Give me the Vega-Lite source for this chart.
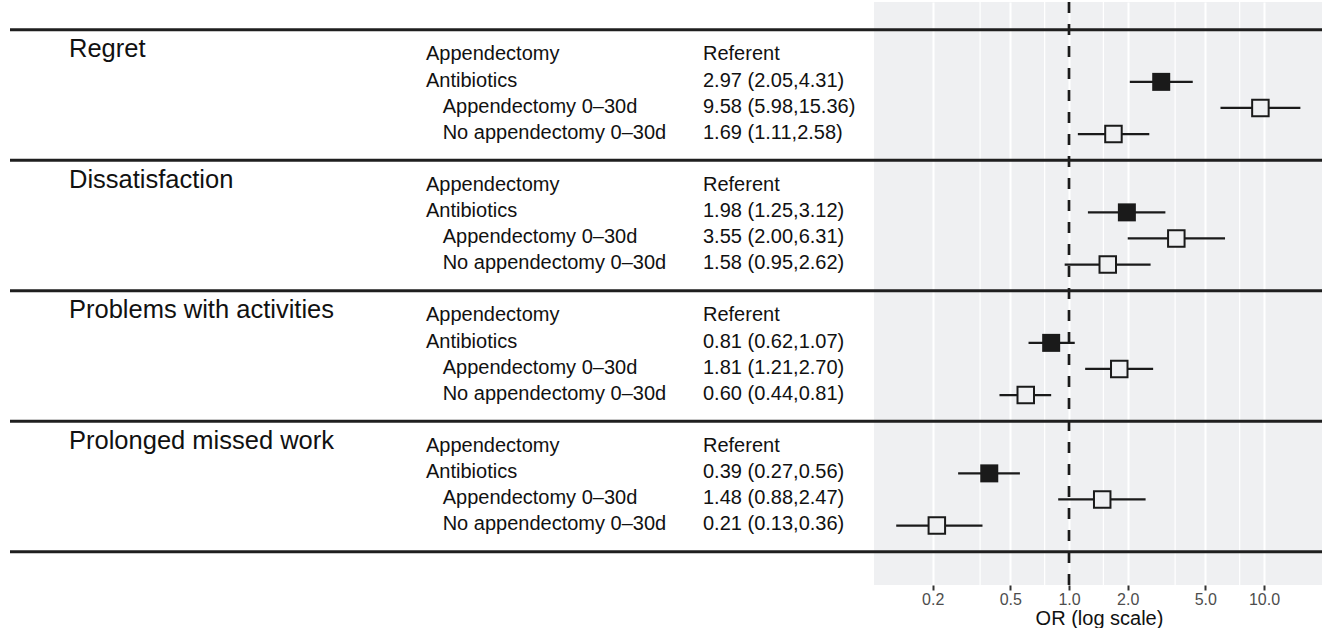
{
  "$schema": "https://vega.github.io/schema/vega-lite/v6.json",
  "padding": {"left": 8, "top": 0, "right": 0, "bottom": 0},
  "spacing": 0,
  "bounds": "flush",
  "config": {
    "font": "Liberation Sans",
    "view": {"stroke": null},
    "text": {"color": "#111111"}
  },
  "datasets": {
    "rows": [
      {"outcome": "Regret", "group": "Appendectomy", "est": "Referent", "row": 1},
      {"outcome": "Regret", "group": "Antibiotics", "est": "2.97 (2.05,4.31)", "or": 2.97, "lo": 2.05, "hi": 4.31, "kind": "filled", "row": 2},
      {"outcome": "Regret", "group": "\u200b\u00a0\u00a0\u00a0Appendectomy 0–30d", "est": "9.58 (5.98,15.36)", "or": 9.58, "lo": 5.98, "hi": 15.36, "kind": "open", "row": 3},
      {"outcome": "Regret", "group": "\u200b\u00a0\u00a0\u00a0No appendectomy 0–30d", "est": "1.69 (1.11,2.58)", "or": 1.69, "lo": 1.11, "hi": 2.58, "kind": "open", "row": 4},
      {"outcome": "Dissatisfaction", "group": "Appendectomy", "est": "Referent", "row": 6},
      {"outcome": "Dissatisfaction", "group": "Antibiotics", "est": "1.98 (1.25,3.12)", "or": 1.98, "lo": 1.25, "hi": 3.12, "kind": "filled", "row": 7},
      {"outcome": "Dissatisfaction", "group": "\u200b\u00a0\u00a0\u00a0Appendectomy 0–30d", "est": "3.55 (2.00,6.31)", "or": 3.55, "lo": 2.0, "hi": 6.31, "kind": "open", "row": 8},
      {"outcome": "Dissatisfaction", "group": "\u200b\u00a0\u00a0\u00a0No appendectomy 0–30d", "est": "1.58 (0.95,2.62)", "or": 1.58, "lo": 0.95, "hi": 2.62, "kind": "open", "row": 9},
      {"outcome": "Problems with activities", "group": "Appendectomy", "est": "Referent", "row": 11},
      {"outcome": "Problems with activities", "group": "Antibiotics", "est": "0.81 (0.62,1.07)", "or": 0.81, "lo": 0.62, "hi": 1.07, "kind": "filled", "row": 12},
      {"outcome": "Problems with activities", "group": "\u200b\u00a0\u00a0\u00a0Appendectomy 0–30d", "est": "1.81 (1.21,2.70)", "or": 1.81, "lo": 1.21, "hi": 2.7, "kind": "open", "row": 13},
      {"outcome": "Problems with activities", "group": "\u200b\u00a0\u00a0\u00a0No appendectomy 0–30d", "est": "0.60 (0.44,0.81)", "or": 0.6, "lo": 0.44, "hi": 0.81, "kind": "open", "row": 14},
      {"outcome": "Prolonged missed work", "group": "Appendectomy", "est": "Referent", "row": 16},
      {"outcome": "Prolonged missed work", "group": "Antibiotics", "est": "0.39 (0.27,0.56)", "or": 0.39, "lo": 0.27, "hi": 0.56, "kind": "filled", "row": 17},
      {"outcome": "Prolonged missed work", "group": "\u200b\u00a0\u00a0\u00a0Appendectomy 0–30d", "est": "1.48 (0.88,2.47)", "or": 1.48, "lo": 0.88, "hi": 2.47, "kind": "open", "row": 18},
      {"outcome": "Prolonged missed work", "group": "\u200b\u00a0\u00a0\u00a0No appendectomy 0–30d", "est": "0.21 (0.13,0.36)", "or": 0.21, "lo": 0.13, "hi": 0.36, "kind": "open", "row": 19}
    ],
    "seps": [{"row": 0}, {"row": 5}, {"row": 10}, {"row": 15}, {"row": 20}],
    "minor": [{"v": 0.35}, {"v": 0.75}, {"v": 1.5}, {"v": 3.5}, {"v": 7.5}],
    "ref": [{"v": 1}]
  },
  "hconcat": [
    {
      "width": 59, "height": 583,
      "data": {"name": "seps"},
      "mark": {"type": "rule", "strokeWidth": 3, "color": "#1f1f1f"},
      "encoding": {
        "y": {"field": "row", "type": "quantitative", "scale": {"domain": [-1.06, 21.277], "reverse": true, "nice": false, "zero": false}, "axis": null}
      }
    },
    {
      "width": 357, "height": 583,
      "layer": [
        {
          "data": {"name": "seps"},
          "mark": {"type": "rule", "strokeWidth": 3, "color": "#1f1f1f"},
          "encoding": {
            "y": {"field": "row", "type": "quantitative", "scale": {"domain": [-1.06, 21.277], "reverse": true, "nice": false, "zero": false}, "axis": null}
          }
        },
        {
          "data": {"name": "rows"},
          "transform": [{"filter": "datum.group === 'Appendectomy'"}],
          "mark": {"type": "text", "align": "left", "baseline": "middle", "fontSize": 25.5, "dy": -6.5},
          "encoding": {
            "x": {"datum": 0, "type": "quantitative", "scale": {"domain": [0, 1]}, "axis": null},
            "y": {"field": "row", "type": "quantitative"},
            "text": {"field": "outcome"}
          }
        }
      ]
    },
    {
      "width": 277, "height": 583,
      "layer": [
        {
          "data": {"name": "seps"},
          "mark": {"type": "rule", "strokeWidth": 3, "color": "#1f1f1f"},
          "encoding": {
            "y": {"field": "row", "type": "quantitative", "scale": {"domain": [-1.06, 21.277], "reverse": true, "nice": false, "zero": false}, "axis": null}
          }
        },
        {
          "data": {"name": "rows"},
          "mark": {"type": "text", "align": "left", "baseline": "middle", "fontSize": 20, "dy": -1.3},
          "encoding": {
            "x": {"datum": 0, "type": "quantitative", "scale": {"domain": [0, 1]}, "axis": null},
            "y": {"field": "row", "type": "quantitative"},
            "text": {"field": "group"}
          }
        }
      ]
    },
    {
      "width": 171, "height": 583,
      "layer": [
        {
          "data": {"name": "seps"},
          "mark": {"type": "rule", "strokeWidth": 3, "color": "#1f1f1f"},
          "encoding": {
            "y": {"field": "row", "type": "quantitative", "scale": {"domain": [-1.06, 21.277], "reverse": true, "nice": false, "zero": false}, "axis": null}
          }
        },
        {
          "data": {"name": "rows"},
          "mark": {"type": "text", "align": "left", "baseline": "middle", "fontSize": 20, "dy": -1.3},
          "encoding": {
            "x": {"datum": 0, "type": "quantitative", "scale": {"domain": [0, 1]}, "axis": null},
            "y": {"field": "row", "type": "quantitative"},
            "text": {"field": "est"}
          }
        }
      ]
    },
    {
      "width": 450, "height": 583,
      "view": {"fill": "#EFF0F2", "stroke": null},
      "encoding": {
        "x": {"type": "quantitative",
          "scale": {"type": "log", "domain": [0.1, 20.3], "nice": false, "zero": false},
          "axis": {
            "values": [0.2, 0.5, 1, 2, 5, 10], "format": ".1f",
            "grid": true, "gridColor": "#ffffff", "gridWidth": 2,
            "domain": false, "ticks": true, "tickColor": "#333333", "tickWidth": 2, "tickSize": 5,
            "labelFontSize": 16, "labelColor": "#4d4d4d", "labelPadding": 1,
            "title": "OR (log scale)", "titleFontSize": 20, "titleFontWeight": "normal", "titleColor": "#111111", "titlePadding": 1
          }
        }
      },
      "layer": [
        {
          "data": {"name": "minor"},
          "mark": {"type": "rule", "color": "#ffffff", "strokeWidth": 1.2},
          "encoding": {"x": {"field": "v", "type": "quantitative"}}
        },
        {
          "data": {"name": "ref"},
          "mark": {"type": "rule", "color": "#1a1a1a", "strokeWidth": 2.7, "strokeDash": [11, 11]},
          "encoding": {"x": {"field": "v", "type": "quantitative"}}
        },
        {
          "data": {"name": "seps"},
          "mark": {"type": "rule", "strokeWidth": 3, "color": "#1f1f1f"},
          "encoding": {
            "y": {"field": "row", "type": "quantitative", "scale": {"domain": [-1.06, 21.277], "reverse": true, "nice": false, "zero": false}, "axis": null}
          }
        },
        {
          "data": {"name": "rows"},
          "transform": [{"filter": "isValid(datum.or)"}],
          "mark": {"type": "rule", "color": "#1a1a1a", "strokeWidth": 2.3},
          "encoding": {
            "x": {"field": "lo", "type": "quantitative"},
            "x2": {"field": "hi"},
            "y": {"field": "row", "type": "quantitative"}
          }
        },
        {
          "data": {"name": "rows"},
          "transform": [{"filter": "datum.kind === 'filled'"}],
          "mark": {"type": "point", "shape": "square", "filled": true, "color": "#1a1a1a", "opacity": 1, "size": 324},
          "encoding": {
            "x": {"field": "or", "type": "quantitative"},
            "y": {"field": "row", "type": "quantitative"}
          }
        },
        {
          "data": {"name": "rows"},
          "transform": [{"filter": "datum.kind === 'open'"}],
          "mark": {"type": "point", "shape": "square", "filled": false, "fill": "#EFF0F2", "fillOpacity": 1, "stroke": "#1a1a1a", "strokeWidth": 2, "opacity": 1, "size": 272},
          "encoding": {
            "x": {"field": "or", "type": "quantitative"},
            "y": {"field": "row", "type": "quantitative"}
          }
        }
      ]
    }
  ]
}
